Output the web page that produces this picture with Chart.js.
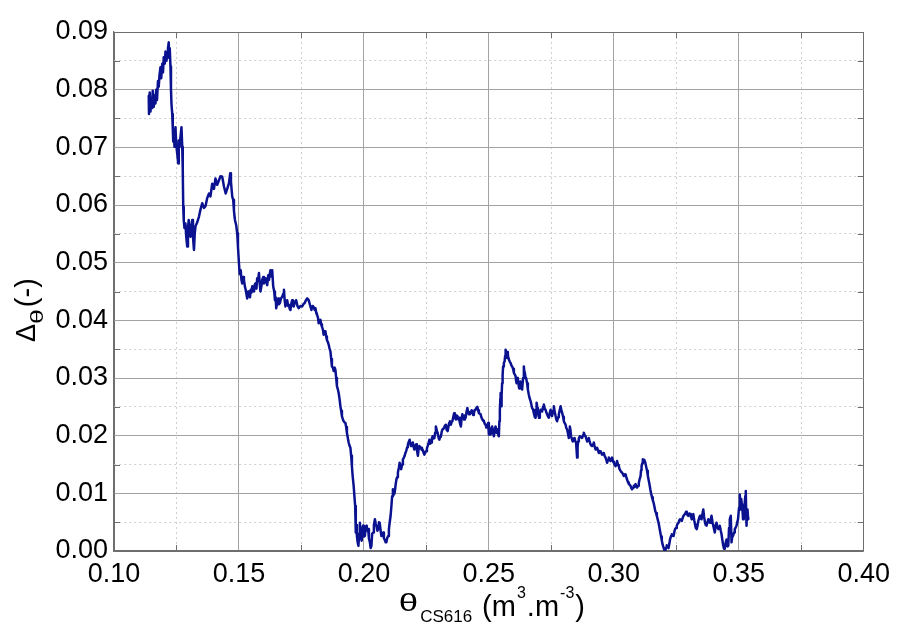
<!DOCTYPE html>
<html>
<head>
<meta charset="utf-8">
<script src="https://cdn.jsdelivr.net/npm/chart.js@4/dist/chart.umd.min.js"></script>
<style>
  html, body { margin: 0; padding: 0; background: #ffffff; }
  canvas { display: block; }
</style>
</head>
<body>
<canvas id="chart" width="897" height="628"></canvas>
<script>
// Soil moisture from the CS616 probe (m3.m-3)
const thetaCS616 = [
  0.1139,0.1140,0.1143,0.1146,0.1149,0.1152,0.1155,0.1159,0.1162,0.1166,
  0.1169,0.1172,0.1176,0.1179,0.1182,0.1186,0.1189,0.1193,0.1196,0.1199,
  0.1203,0.1206,0.1210,0.1213,0.1216,0.1219,0.1221,0.1223,0.1226,0.1228,
  0.1230,0.1233,0.1235,0.1237,0.1239,0.1242,0.1244,0.1246,0.1249,0.1253,
  0.1257,0.1259,0.1262,0.1266,0.1270,0.1273,0.1275,0.1277,0.1279,0.1282,
  0.1286,0.1289,0.1293,0.1296,0.1299,0.1303,0.1306,0.1310,0.1313,0.1316,
  0.1320,0.1323,0.1326,0.1333,0.1340,0.1346,0.1353,0.1360,0.1366,0.1373,
  0.1380,0.1386,0.1393,0.1400,0.1406,0.1413,0.1420,0.1426,0.1433,0.1440,
  0.1447,0.1453,0.1460,0.1465,0.1468,0.1473,0.1477,0.1480,0.1484,0.1489,
  0.1493,0.1496,0.1500,0.1503,0.1507,0.1510,0.1513,0.1517,0.1520,0.1524,
  0.1527,0.1530,0.1533,0.1537,0.1540,0.1544,0.1547,0.1550,0.1553,0.1557,
  0.1560,0.1563,0.1566,0.1570,0.1573,0.1576,0.1580,0.1583,0.1586,0.1590,
  0.1593,0.1597,0.1600,0.1603,0.1606,0.1610,0.1613,0.1617,0.1620,0.1623,
  0.1626,0.1630,0.1633,0.1637,0.1641,0.1644,0.1647,0.1649,0.1653,0.1657,
  0.1660,0.1664,0.1668,0.1673,0.1677,0.1680,0.1683,0.1686,0.1690,0.1693,
  0.1697,0.1700,0.1703,0.1706,0.1710,0.1713,0.1716,0.1719,0.1724,0.1729,
  0.1734,0.1739,0.1746,0.1753,0.1758,0.1763,0.1768,0.1773,0.1779,0.1784,
  0.1790,0.1795,0.1799,0.1803,0.1806,0.1810,0.1812,0.1816,0.1819,0.1822,
  0.1826,0.1829,0.1832,0.1836,0.1839,0.1843,0.1846,0.1849,0.1852,0.1856,
  0.1859,0.1862,0.1866,0.1869,0.1872,0.1876,0.1879,0.1883,0.1886,0.1889,
  0.1892,0.1896,0.1899,0.1903,0.1906,0.1909,0.1912,0.1916,0.1919,0.1923,
  0.1926,0.1929,0.1932,0.1936,0.1939,0.1943,0.1946,0.1949,0.1952,0.1955,
  0.1959,0.1962,0.1965,0.1967,0.1968,0.1970,0.1972,0.1975,0.1978,0.1981,
  0.1984,0.1987,0.1991,0.1994,0.1997,0.2000,0.2004,0.2007,0.2011,0.2014,
  0.2017,0.2020,0.2024,0.2027,0.2030,0.2033,0.2037,0.2040,0.2044,0.2047,
  0.2050,0.2054,0.2057,0.2060,0.2063,0.2067,0.2070,0.2073,0.2077,0.2080,
  0.2083,0.2087,0.2090,0.2093,0.2097,0.2100,0.2103,0.2107,0.2110,0.2113,
  0.2116,0.2120,0.2123,0.2127,0.2130,0.2133,0.2136,0.2140,0.2143,0.2146,
  0.2149,0.2153,0.2156,0.2160,0.2163,0.2166,0.2169,0.2173,0.2176,0.2180,
  0.2183,0.2186,0.2189,0.2193,0.2196,0.2199,0.2202,0.2206,0.2209,0.2212,
  0.2216,0.2219,0.2222,0.2226,0.2229,0.2232,0.2235,0.2239,0.2242,0.2246,
  0.2249,0.2252,0.2255,0.2259,0.2262,0.2265,0.2269,0.2272,0.2275,0.2279,
  0.2282,0.2285,0.2288,0.2292,0.2295,0.2299,0.2302,0.2305,0.2308,0.2312,
  0.2315,0.2318,0.2321,0.2325,0.2328,0.2331,0.2335,0.2338,0.2341,0.2344,
  0.2348,0.2351,0.2354,0.2358,0.2361,0.2364,0.2368,0.2371,0.2374,0.2378,
  0.2381,0.2384,0.2388,0.2391,0.2394,0.2398,0.2401,0.2404,0.2407,0.2411,
  0.2414,0.2417,0.2421,0.2424,0.2427,0.2431,0.2434,0.2437,0.2440,0.2444,
  0.2447,0.2450,0.2454,0.2457,0.2460,0.2464,0.2467,0.2470,0.2474,0.2477,
  0.2480,0.2484,0.2487,0.2490,0.2493,0.2497,0.2500,0.2503,0.2507,0.2510,
  0.2513,0.2517,0.2520,0.2523,0.2527,0.2530,0.2533,0.2537,0.2540,0.2542,
  0.2544,0.2546,0.2547,0.2549,0.2551,0.2553,0.2555,0.2557,0.2560,0.2563,
  0.2565,0.2567,0.2569,0.2571,0.2574,0.2576,0.2578,0.2580,0.2584,0.2587,
  0.2590,0.2593,0.2597,0.2600,0.2604,0.2607,0.2609,0.2611,0.2614,0.2616,
  0.2619,0.2621,0.2624,0.2627,0.2630,0.2633,0.2637,0.2640,0.2642,0.2644,
  0.2647,0.2649,0.2653,0.2656,0.2660,0.2663,0.2667,0.2670,0.2673,0.2677,
  0.2680,0.2684,0.2687,0.2689,0.2691,0.2694,0.2696,0.2699,0.2701,0.2704,
  0.2707,0.2710,0.2713,0.2717,0.2720,0.2724,0.2727,0.2730,0.2733,0.2737,
  0.2740,0.2744,0.2747,0.2750,0.2753,0.2757,0.2760,0.2764,0.2767,0.2770,
  0.2773,0.2777,0.2780,0.2784,0.2787,0.2790,0.2793,0.2797,0.2800,0.2803,
  0.2807,0.2810,0.2813,0.2817,0.2820,0.2822,0.2824,0.2827,0.2829,0.2833,
  0.2836,0.2840,0.2843,0.2846,0.2849,0.2851,0.2853,0.2855,0.2857,0.2860,
  0.2864,0.2868,0.2873,0.2877,0.2880,0.2884,0.2887,0.2890,0.2893,0.2897,
  0.2900,0.2903,0.2907,0.2910,0.2913,0.2917,0.2920,0.2923,0.2927,0.2930,
  0.2933,0.2937,0.2940,0.2943,0.2947,0.2950,0.2953,0.2957,0.2960,0.2963,
  0.2967,0.2970,0.2973,0.2977,0.2980,0.2983,0.2987,0.2990,0.2993,0.2997,
  0.3000,0.3003,0.3007,0.3010,0.3013,0.3017,0.3020,0.3023,0.3027,0.3030,
  0.3033,0.3037,0.3040,0.3043,0.3047,0.3050,0.3053,0.3057,0.3060,0.3063,
  0.3067,0.3070,0.3073,0.3077,0.3080,0.3083,0.3087,0.3090,0.3093,0.3097,
  0.3100,0.3103,0.3107,0.3109,0.3111,0.3114,0.3116,0.3119,0.3122,0.3126,
  0.3129,0.3133,0.3136,0.3139,0.3143,0.3146,0.3149,0.3153,0.3156,0.3159,
  0.3163,0.3166,0.3169,0.3172,0.3176,0.3179,0.3182,0.3186,0.3189,0.3192,
  0.3196,0.3199,0.3202,0.3206,0.3209,0.3212,0.3216,0.3219,0.3222,0.3225,
  0.3229,0.3232,0.3235,0.3239,0.3242,0.3245,0.3249,0.3252,0.3255,0.3259,
  0.3262,0.3265,0.3269,0.3272,0.3275,0.3279,0.3282,0.3285,0.3289,0.3292,
  0.3295,0.3298,0.3302,0.3305,0.3308,0.3312,0.3315,0.3318,0.3322,0.3325,
  0.3328,0.3332,0.3335,0.3338,0.3342,0.3345,0.3348,0.3351,0.3355,0.3358,
  0.3361,0.3365,0.3368,0.3371,0.3375,0.3378,0.3381,0.3385,0.3388,0.3391,
  0.3395,0.3398,0.3401,0.3404,0.3408,0.3411,0.3414,0.3418,0.3421,0.3424,
  0.3428,0.3431,0.3434,0.3438,0.3441,0.3444,0.3448,0.3451,0.3454,0.3458,
  0.3461,0.3464,0.3468,0.3471,0.3474,0.3477,0.3481,0.3484,0.3488,0.3491,
  0.3494,0.3497,0.3501,0.3504,0.3506,0.3508,0.3510,0.3512,0.3515,0.3517,
  0.3520,0.3524,0.3526,0.3528,0.3530,0.3531,0.3533,0.3535,0.3537,0.3538
];

// Difference between the two moisture estimates (-)
const deltaTheta = [
  0.0790,0.0758,0.0795,0.0762,0.0785,0.0768,0.0798,0.0770,0.0790,0.0776,
  0.0800,0.0782,0.0815,0.0805,0.0825,0.0839,0.0820,0.0845,0.0830,0.0856,
  0.0845,0.0866,0.0850,0.0862,0.0872,0.0882,0.0855,0.0872,0.0840,0.0800,
  0.0775,0.0758,0.0735,0.0710,0.0730,0.0701,0.0720,0.0735,0.0705,0.0689,
  0.0672,0.0712,0.0700,0.0718,0.0735,0.0701,0.0665,0.0597,0.0574,0.0560,
  0.0568,0.0545,0.0528,0.0560,0.0574,0.0550,0.0545,0.0565,0.0574,0.0545,
  0.0522,0.0550,0.0563,0.0570,0.0580,0.0592,0.0603,0.0595,0.0598,0.0612,
  0.0620,0.0615,0.0637,0.0628,0.0646,0.0635,0.0643,0.0650,0.0649,0.0632,
  0.0620,0.0628,0.0638,0.0655,0.0640,0.0615,0.0609,0.0590,0.0574,0.0565,
  0.0551,0.0528,0.0499,0.0480,0.0487,0.0470,0.0464,0.0475,0.0470,0.0458,
  0.0453,0.0445,0.0438,0.0450,0.0447,0.0440,0.0453,0.0448,0.0459,0.0452,
  0.0450,0.0462,0.0464,0.0455,0.0473,0.0468,0.0482,0.0465,0.0450,0.0460,
  0.0470,0.0475,0.0464,0.0470,0.0473,0.0466,0.0461,0.0478,0.0470,0.0480,
  0.0487,0.0476,0.0487,0.0459,0.0450,0.0435,0.0440,0.0421,0.0430,0.0438,
  0.0428,0.0430,0.0438,0.0441,0.0446,0.0453,0.0435,0.0424,0.0430,0.0435,
  0.0425,0.0427,0.0420,0.0418,0.0430,0.0435,0.0426,0.0424,0.0432,0.0435,
  0.0425,0.0421,0.0425,0.0424,0.0428,0.0430,0.0435,0.0438,0.0435,0.0427,
  0.0418,0.0425,0.0423,0.0418,0.0421,0.0412,0.0410,0.0405,0.0395,0.0400,
  0.0401,0.0393,0.0389,0.0384,0.0375,0.0381,0.0381,0.0372,0.0366,0.0362,
  0.0358,0.0352,0.0346,0.0333,0.0320,0.0318,0.0312,0.0318,0.0314,0.0300,
  0.0286,0.0280,0.0274,0.0262,0.0251,0.0243,0.0234,0.0228,0.0225,0.0223,
  0.0222,0.0215,0.0205,0.0195,0.0188,0.0182,0.0179,0.0165,0.0147,0.0130,
  0.0113,0.0095,0.0078,0.0050,0.0032,0.0045,0.0026,0.0015,0.0009,0.0030,
  0.0049,0.0025,0.0018,0.0040,0.0044,0.0025,0.0026,0.0042,0.0044,0.0035,
  0.0038,0.0022,0.0015,0.0005,0.0009,0.0030,0.0032,0.0045,0.0055,0.0048,
  0.0044,0.0035,0.0038,0.0050,0.0049,0.0035,0.0026,0.0030,0.0032,0.0022,
  0.0020,0.0015,0.0015,0.0022,0.0026,0.0038,0.0049,0.0062,0.0078,0.0095,
  0.0107,0.0098,0.0101,0.0115,0.0124,0.0128,0.0136,0.0145,0.0153,0.0148,
  0.0142,0.0150,0.0159,0.0162,0.0165,0.0170,0.0173,0.0180,0.0185,0.0190,
  0.0193,0.0186,0.0182,0.0187,0.0188,0.0180,0.0176,0.0183,0.0185,0.0175,
  0.0165,0.0178,0.0182,0.0178,0.0179,0.0175,0.0176,0.0170,0.0167,0.0172,
  0.0173,0.0178,0.0182,0.0188,0.0193,0.0186,0.0188,0.0195,0.0199,0.0195,
  0.0196,0.0205,0.0216,0.0208,0.0205,0.0196,0.0193,0.0198,0.0199,0.0208,
  0.0211,0.0212,0.0214,0.0218,0.0219,0.0210,0.0208,0.0215,0.0222,0.0225,
  0.0219,0.0224,0.0225,0.0233,0.0239,0.0232,0.0228,0.0235,0.0234,0.0228,
  0.0231,0.0222,0.0216,0.0230,0.0237,0.0232,0.0228,0.0235,0.0231,0.0242,
  0.0248,0.0240,0.0237,0.0241,0.0239,0.0244,0.0242,0.0236,0.0239,0.0245,
  0.0245,0.0248,0.0250,0.0244,0.0239,0.0238,0.0237,0.0232,0.0228,0.0226,
  0.0225,0.0220,0.0219,0.0214,0.0216,0.0222,0.0202,0.0210,0.0202,0.0213,
  0.0216,0.0205,0.0199,0.0210,0.0216,0.0205,0.0211,0.0203,0.0199,0.0225,
  0.0245,0.0265,0.0274,0.0251,0.0270,0.0291,0.0305,0.0320,0.0326,0.0329,
  0.0338,0.0349,0.0340,0.0335,0.0345,0.0341,0.0334,0.0332,0.0328,0.0326,
  0.0322,0.0320,0.0316,0.0309,0.0306,0.0303,0.0295,0.0291,0.0300,0.0299,
  0.0288,0.0282,0.0293,0.0294,0.0285,0.0280,0.0300,0.0320,0.0310,0.0309,
  0.0300,0.0300,0.0291,0.0280,0.0271,0.0265,0.0260,0.0254,0.0248,0.0245,
  0.0239,0.0232,0.0231,0.0245,0.0257,0.0248,0.0239,0.0234,0.0231,0.0240,
  0.0245,0.0243,0.0242,0.0250,0.0254,0.0246,0.0245,0.0240,0.0237,0.0233,
  0.0231,0.0240,0.0245,0.0238,0.0234,0.0243,0.0251,0.0240,0.0234,0.0228,
  0.0225,0.0232,0.0237,0.0245,0.0251,0.0245,0.0240,0.0233,0.0225,0.0222,
  0.0219,0.0213,0.0211,0.0203,0.0196,0.0205,0.0216,0.0208,0.0199,0.0193,
  0.0190,0.0195,0.0196,0.0190,0.0188,0.0175,0.0162,0.0180,0.0190,0.0195,
  0.0199,0.0198,0.0196,0.0201,0.0205,0.0200,0.0199,0.0195,0.0190,0.0194,
  0.0196,0.0190,0.0185,0.0183,0.0182,0.0185,0.0188,0.0182,0.0176,0.0178,
  0.0179,0.0174,0.0170,0.0172,0.0173,0.0170,0.0167,0.0169,0.0170,0.0165,
  0.0162,0.0158,0.0153,0.0158,0.0162,0.0159,0.0156,0.0159,0.0162,0.0155,
  0.0153,0.0150,0.0147,0.0151,0.0156,0.0149,0.0147,0.0142,0.0139,0.0137,
  0.0136,0.0133,0.0130,0.0132,0.0133,0.0128,0.0124,0.0119,0.0116,0.0115,
  0.0113,0.0109,0.0107,0.0110,0.0113,0.0111,0.0116,0.0112,0.0110,0.0113,
  0.0118,0.0124,0.0130,0.0140,0.0147,0.0152,0.0159,0.0156,0.0158,0.0153,
  0.0147,0.0139,0.0131,0.0124,0.0115,0.0107,0.0100,0.0093,0.0088,0.0084,
  0.0076,0.0069,0.0066,0.0061,0.0054,0.0049,0.0042,0.0032,0.0025,0.0018,
  0.0010,0.0006,0.0002,0.0000,0.0006,0.0010,0.0008,0.0005,0.0012,0.0020,
  0.0026,0.0029,0.0027,0.0026,0.0033,0.0038,0.0040,0.0044,0.0047,0.0049,
  0.0053,0.0055,0.0054,0.0052,0.0057,0.0061,0.0063,0.0064,0.0068,0.0067,
  0.0062,0.0061,0.0065,0.0064,0.0060,0.0055,0.0062,0.0064,0.0053,0.0046,
  0.0040,0.0038,0.0044,0.0052,0.0058,0.0061,0.0056,0.0055,0.0065,0.0072,
  0.0060,0.0049,0.0045,0.0044,0.0050,0.0055,0.0050,0.0049,0.0055,0.0061,
  0.0050,0.0044,0.0038,0.0032,0.0045,0.0049,0.0042,0.0038,0.0041,0.0044,
  0.0035,0.0029,0.0020,0.0009,0.0004,0.0006,0.0015,0.0020,0.0008,0.0009,
  0.0040,0.0055,0.0061,0.0015,0.0025,0.0026,0.0032,0.0038,0.0041,0.0044,
  0.0050,0.0055,0.0075,0.0098,0.0085,0.0072,0.0090,0.0090,0.0070,0.0055,
  0.0075,0.0084,0.0095,0.0104,0.0060,0.0044,0.0065,0.0072,0.0058,0.0055
];

// Axis ticks: labelled major ticks and unlabelled minor ticks
const xMajorTicks = [0.10, 0.15, 0.20, 0.25, 0.30, 0.35, 0.40];
const xMinorTicks = [0.125, 0.175, 0.225, 0.275, 0.325, 0.375];
const yMajorTicks = [0.00, 0.01, 0.02, 0.03, 0.04, 0.05, 0.06, 0.07, 0.08, 0.09];
const yMinorTicks = [0.005, 0.015, 0.025, 0.035, 0.045, 0.055, 0.065, 0.075, 0.085];

const FONT = '"Liberation Sans", Arial, Helvetica, sans-serif';
const LINE_COLOR = '#0b1290';
const FRAME_COLOR = '#6e6e6e';
const MAJOR_GRID = '#a3a3a3';
const MINOR_GRID = '#cfcfcf';

function tickList(major, minor) {
  return major.map(v => ({ value: v, major: true }))
    .concat(minor.map(v => ({ value: v, major: false })))
    .sort((a, b) => a.value - b.value);
}

function gridColor(min, max) {
  return ctx => {
    const t = ctx.tick;
    if (!t) return MAJOR_GRID;
    if (Math.abs(t.value - min) < 1e-9 || Math.abs(t.value - max) < 1e-9) return FRAME_COLOR;
    return t.major ? MAJOR_GRID : MINOR_GRID;
  };
}

function gridDash(ctx) {
  return (ctx.tick && !ctx.tick.major) ? [2, 3] : [];
}

const points = thetaCS616.map((x, i) => ({ x: x, y: deltaTheta[i] }));

// Draws one run of text; sx widens the glyphs horizontally
function drawPiece(ctx, p, x, y) {
  ctx.font = p.size + 'px ' + FONT;
  const sx = p.sx || 1;
  ctx.save();
  ctx.translate(x, y + p.dy);
  ctx.scale(sx, 1);
  ctx.fillText(p.t, 0, 0);
  ctx.restore();
  return ctx.measureText(p.t).width * sx;
}

// Inward minor tick marks on all four sides, plus the two axis titles
const decorations = {
  id: 'decorations',
  afterDraw(chart) {
    const { ctx, chartArea: a, scales } = chart;
    const xs = scales.x, ys = scales.y;
    const len = 6;
    ctx.save();
    ctx.strokeStyle = FRAME_COLOR;
    ctx.lineWidth = 1;
    ctx.beginPath();
    xMinorTicks.forEach(v => {
      const px = Math.round(xs.getPixelForValue(v)) + 0.5;
      ctx.moveTo(px, a.bottom); ctx.lineTo(px, a.bottom - len);
      ctx.moveTo(px, a.top); ctx.lineTo(px, a.top + len);
    });
    yMinorTicks.forEach(v => {
      const py = Math.round(ys.getPixelForValue(v)) + 0.5;
      ctx.moveTo(a.left, py); ctx.lineTo(a.left + len, py);
      ctx.moveTo(a.right, py); ctx.lineTo(a.right - len, py);
    });
    ctx.stroke();

    ctx.fillStyle = '#000000';
    ctx.textAlign = 'left';
    ctx.textBaseline = 'alphabetic';

    // x axis title: θ_CS616 (m³.m⁻³)
    const base = a.bottom + 65;
    const xParts = [
      { t: '\u03B8', size: 24, dy: -5, gap: 2, sx: 1.45 },
      { t: 'CS616', size: 17, dy: 6, gap: 10 },
      { t: '(m', size: 29, dy: 0, gap: 1 },
      { t: '3', size: 16, dy: -18, gap: 1 },
      { t: '.m', size: 29, dy: 0, gap: 1 },
      { t: '-3', size: 16, dy: -18, gap: 1 },
      { t: ')', size: 29, dy: 0, gap: 0 }
    ];
    let total = 0;
    xParts.forEach(p => {
      ctx.font = p.size + 'px ' + FONT;
      p.w = ctx.measureText(p.t).width * (p.sx || 1);
      total += p.w + p.gap;
    });
    let cx = (a.left + a.right) / 2 + 3 - total / 2;
    xParts.forEach(p => {
      drawPiece(ctx, p, cx, base);
      cx += p.w + p.gap;
    });

    // y axis title: Δ_θ (-), reading upwards
    ctx.save();
    ctx.translate(a.left - 79, a.bottom - 209);
    ctx.rotate(-Math.PI / 2);
    const yParts = [
      { t: '\u0394', size: 27, dy: 0, gap: 0 },
      { t: '\u03B8', size: 19, dy: 8, gap: 2, sx: 1.4 },
      { t: '(-)', size: 29, dy: 1, gap: 0 }
    ];
    let u = 0;
    yParts.forEach(p => {
      u += drawPiece(ctx, p, u, 0) + p.gap;
    });
    ctx.restore();
    ctx.restore();
  }
};

new Chart(document.getElementById('chart'), {
  type: 'scatter',
  data: {
    datasets: [{
      data: points,
      showLine: true,
      borderColor: LINE_COLOR,
      backgroundColor: LINE_COLOR,
      borderWidth: 2.5,
      borderJoinStyle: 'round',
      pointRadius: 0,
      pointHoverRadius: 0,
      tension: 0
    }]
  },
  options: {
    responsive: false,
    animation: false,
    devicePixelRatio: 1,
    events: [],
    layout: { padding: { left: 0, right: 30, top: 32, bottom: 0 } },
    plugins: { legend: { display: false }, tooltip: { enabled: false } },
    scales: {
      x: {
        type: 'linear',
        min: 0.10,
        max: 0.40,
        afterBuildTicks: s => { s.ticks = tickList(xMajorTicks, xMinorTicks); },
        afterFit: s => { s.height = 77; },
        grid: { color: gridColor(0.10, 0.40), lineWidth: 1, drawTicks: false },
        border: { display: true, color: FRAME_COLOR, width: 1.2, dash: gridDash },
        ticks: {
          autoSkip: false,
          maxRotation: 0,
          padding: 7,
          color: '#000000',
          font: { family: FONT, size: 27 },
          callback: (v, i, ticks) => ticks[i] && ticks[i].major ? Number(v).toFixed(2) : ''
        }
      },
      y: {
        type: 'linear',
        min: 0,
        max: 0.09,
        afterBuildTicks: s => { s.ticks = tickList(yMajorTicks, yMinorTicks); },
        afterFit: s => { s.width = 114; },
        grid: { color: gridColor(0, 0.09), lineWidth: 1, drawTicks: false },
        border: { display: true, color: FRAME_COLOR, width: 1.2, dash: gridDash },
        ticks: {
          autoSkip: false,
          padding: 6,
          color: '#000000',
          font: { family: FONT, size: 27 },
          callback: (v, i, ticks) => ticks[i] && ticks[i].major ? Number(v).toFixed(2) : ''
        }
      }
    }
  },
  plugins: [decorations]
});
</script>
</body>
</html>
